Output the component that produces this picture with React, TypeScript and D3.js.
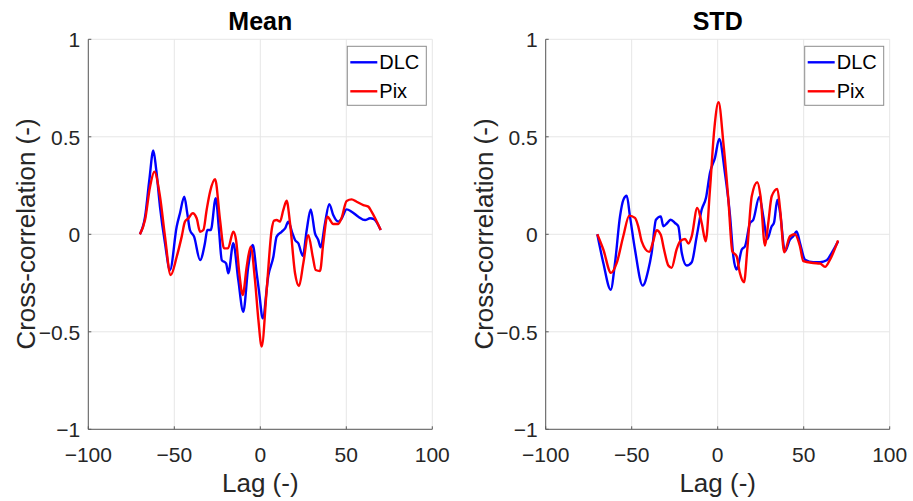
import React from "react";
import * as d3 from "d3";

// ---------- data ----------
const xTicks = [-100, -50, 0, 50, 100];
const yTicks = [-1, -0.5, 0, 0.5, 1];
const seriesNames = ["DLC", "Pix"];
const seriesColors = ["#0000ff", "#ff0000"];
const panelTitles = ["Mean", "STD"];

const meanDLCLag = [-70, -67, -64.5, -62.2, -60.5, -58.3, -55.4, -52.5, -48.6, -46.7, -44.2, -42.5, -40.9, -38.5, -35, -32.2, -30.8, -28.8, -25.9, -24, -22.4, -19.9, -18.6, -15.7, -12.8, -9.9, -7, -4.4, -2.1, -0.6, 1.4, 4.7, 7.6, 9.5, 12.4, 14.4, 16.3, 18.5, 20.2, 22.1, 24.7, 27, 29.3, 31.8, 33.7, 35.1, 37.6, 40.1, 42.4, 45.3, 47.2, 50.2, 53.1, 57, 60.9, 63.8, 66.1, 70];
const meanDLC = [0, 0.09, 0.28, 0.43, 0.33, 0.14, -0.046, -0.183, 0.04, 0.108, 0.193, 0.11, 0.022, -0.012, -0.132, -0.046, 0.022, 0.022, 0.185, 0.02, -0.132, -0.149, -0.2, -0.046, -0.234, -0.397, -0.166, -0.055, -0.2, -0.303, -0.431, -0.21, -0.115, -0.012, 0.013, 0.03, 0.065, 0.01, -0.029, -0.046, -0.111, 0.022, 0.128, 0.005, -0.029, -0.067, 0.056, 0.155, 0.099, 0.065, 0.08, 0.128, 0.116, 0.09, 0.073, 0.082, 0.077, 0.022];

const meanPixLag = [-70, -67, -64.1, -61.6, -58.3, -55.4, -52.1, -48.6, -45.7, -43.8, -41.8, -39.3, -37, -35, -33.1, -31.2, -29.2, -26.3, -23.4, -21.1, -18.8, -15.7, -14.1, -12.2, -10.2, -7.9, -5.6, -3.1, -1.1, 0.8, 3.7, 6.6, 8, 9.5, 11.4, 13.4, 15.3, 17.3, 20.2, 22.5, 25, 27.9, 30.5, 32.2, 34.7, 36.6, 39, 42.4, 45.3, 47.2, 50.2, 53.1, 56, 59.9, 62.8, 64.7, 70];
const meanPix = [0, 0.074, 0.244, 0.321, 0.193, -0.012, -0.209, -0.115, -0.012, 0.065, 0.082, 0.108, 0.082, 0.013, 0.022, 0.125, 0.218, 0.282, 0.073, -0.072, -0.072, 0.013, -0.029, -0.2, -0.311, -0.166, -0.063, -0.234, -0.44, -0.576, -0.286, 0.022, 0.07, 0.073, 0.065, 0.125, 0.172, 0.056, -0.2, -0.265, -0.149, -0.004, -0.115, -0.183, -0.188, -0.046, 0.09, 0.053, 0.053, 0.082, 0.171, 0.179, 0.167, 0.15, 0.142, 0.116, 0.022];

const stdDLCLag = [-70, -66.5, -62.2, -59.7, -56.8, -54.8, -52.9, -51, -48.1, -43.6, -40.3, -38.4, -35.9, -33.1, -31.6, -29.3, -27.3, -24.8, -22.9, -20.9, -18, -15.1, -12.2, -9.3, -6.8, -4.5, -1.6, 0.9, 4.2, 7.2, 9.1, 11, 14, 15.9, 18.8, 20.7, 24.2, 26.5, 28.8, 31.4, 32.7, 34.7, 36.3, 39.1, 42, 43.9, 45.9, 47.8, 50.8, 55.6, 59.5, 63.4, 66.3, 70];
const stdDLC = [0, -0.147, -0.284, -0.147, 0.092, 0.178, 0.198, 0.092, -0.078, -0.263, -0.181, -0.095, 0.075, 0.092, 0.041, 0.058, 0.075, 0.058, 0.041, -0.095, -0.16, -0.143, -0.01, 0.127, 0.187, 0.315, 0.392, 0.489, 0.315, 0.092, -0.113, -0.181, -0.078, -0.061, 0.058, 0.075, 0.192, 0.092, -0.024, 0.041, 0.058, 0.178, 0.109, -0.087, -0.027, -0.01, 0.015, -0.044, -0.13, -0.143, -0.143, -0.133, -0.095, -0.036];

const stdPixLag = [-70, -66.5, -62, -58.7, -54.9, -51.4, -48.1, -46.2, -44.2, -39.8, -37.5, -35.5, -33.1, -31.2, -28.7, -26.8, -23.9, -21.9, -19, -17, -15.1, -11.9, -9.3, -7, -4.5, -2, 0.5, 3.3, 6.2, 8.5, 11, 12.9, 15.3, 17.2, 19.8, 23, 24.9, 27.5, 29.4, 31.4, 34.7, 36.3, 38.7, 42, 44.9, 47.8, 49.8, 55.6, 59.5, 62.4, 65.3, 70];
const stdPix = [0, -0.078, -0.198, -0.147, -0.01, 0.096, 0.084, 0.041, -0.036, -0.09, -0.036, 0.021, -0.002, -0.078, -0.16, -0.172, -0.078, -0.036, -0.024, -0.047, -0.01, 0.135, 0.058, -0.036, 0.229, 0.537, 0.677, 0.469, 0.178, -0.087, -0.113, -0.198, -0.246, -0.078, 0.195, 0.267, 0.195, -0.058, 0.058, 0.195, 0.233, 0.126, -0.092, -0.01, 0, -0.061, -0.138, -0.147, -0.15, -0.167, -0.13, -0.031];

const panels = [
  { title: panelTitles[0], series: [[meanDLCLag, meanDLC], [meanPixLag, meanPix]] },
  { title: panelTitles[1], series: [[stdDLCLag, stdDLC], [stdPixLag, stdPix]] },
];

// ---------- layout ----------
const W = 913;
const H = 501;
const plotLefts = [88.3, 545.7];
const plotW = 344;
const plotTop = 39.3;
const plotBottom = 429.3;
const FONT = "Arial, 'Liberation Sans', Helvetica, sans-serif";

function fmt(v: number) {
  const s = String(Math.abs(v));
  return v < 0 ? "\u2212" + s : s;
}

function Panel({ left, title, series }: { left: number; title: string; series: number[][][] }) {
  const x = d3.scaleLinear().domain([-100, 100]).range([left, left + plotW]);
  const y = d3.scaleLinear().domain([-1, 1]).range([plotBottom, plotTop]);
  const line = d3
    .line<[number, number]>()
    .x((d) => x(d[0]))
    .y((d) => y(d[1]))
    .curve(d3.curveMonotoneX);
  const right = left + plotW;
  const cx = left + plotW / 2;
  const legX = right - 85;
  const legY = plotTop + 7;
  return (
    <g>
      {xTicks.map((t) => (
        <line key={"gx" + t} x1={x(t)} x2={x(t)} y1={plotTop} y2={plotBottom} stroke="#e6e6e6" strokeWidth={1} />
      ))}
      {yTicks.map((t) => (
        <line key={"gy" + t} x1={left} x2={right} y1={y(t)} y2={y(t)} stroke="#e6e6e6" strokeWidth={1} />
      ))}
      <line x1={left} x2={left} y1={plotTop} y2={plotBottom} stroke="#5a5a5a" strokeWidth={1} />
      <line x1={left} x2={right} y1={plotBottom} y2={plotBottom} stroke="#5a5a5a" strokeWidth={1} />
      {xTicks.map((t) => (
        <line key={"tx" + t} x1={x(t)} x2={x(t)} y1={plotBottom} y2={plotBottom - 3} stroke="#5a5a5a" strokeWidth={1} />
      ))}
      {yTicks.map((t) => (
        <line key={"ty" + t} x1={left} x2={left + 3} y1={y(t)} y2={y(t)} stroke="#5a5a5a" strokeWidth={1} />
      ))}
      {xTicks.map((t) => (
        <text key={"lx" + t} x={x(t)} y={462} textAnchor="middle" fontSize={21} fill="#262626" fontFamily={FONT}>
          {fmt(t)}
        </text>
      ))}
      {yTicks.map((t) => (
        <text key={"ly" + t} x={left - 8} y={y(t) + 8} textAnchor="end" fontSize={21} fill="#262626" fontFamily={FONT}>
          {fmt(t)}
        </text>
      ))}
      <text x={cx} y={492} textAnchor="middle" fontSize={26} fill="#262626" fontFamily={FONT}>
        Lag (-)
      </text>
      <text
        transform={`translate(${left - 53},${234}) rotate(-90)`}
        textAnchor="middle"
        fontSize={26}
        fill="#262626"
        fontFamily={FONT}
      >
        Cross-correlation (-)
      </text>
      <text x={cx} y={30} textAnchor="middle" fontSize={25} fontWeight="bold" fill="#000" fontFamily={FONT}>
        {title}
      </text>
      {series.map(([lags, vals], i) => (
        <path
          key={"s" + i}
          d={line(lags.map((l, j) => [l, vals[j]] as [number, number])) || ""}
          fill="none"
          stroke={seriesColors[i]}
          strokeWidth={2.4}
          strokeLinejoin="round"
        />
      ))}
      <rect x={legX} y={legY} width={79} height={59} fill="#fff" stroke="#8c8c8c" strokeWidth={1} />
      {seriesNames.map((n, i) => (
        <g key={"lg" + n}>
          <line
            x1={legX + 3}
            x2={legX + 30}
            y1={legY + 16 + i * 29}
            y2={legY + 16 + i * 29}
            stroke={seriesColors[i]}
            strokeWidth={2.4}
          />
          <text x={legX + 32} y={legY + 16 + i * 29 + 7} fontSize={20} fill="#000" fontFamily={FONT}>
            {n}
          </text>
        </g>
      ))}
    </g>
  );
}

export default function App() {
  return (
    <svg
      width={W}
      height={H}
      viewBox={`0 0 ${W} ${H}`}
      style={{ position: "absolute", left: 0, top: 0, background: "#fff" }}
    >
      <rect x={0} y={0} width={W} height={H} fill="#fff" />
      {panels.map((p, i) => (
        <Panel key={p.title} left={plotLefts[i]} title={p.title} series={p.series} />
      ))}
    </svg>
  );
}
